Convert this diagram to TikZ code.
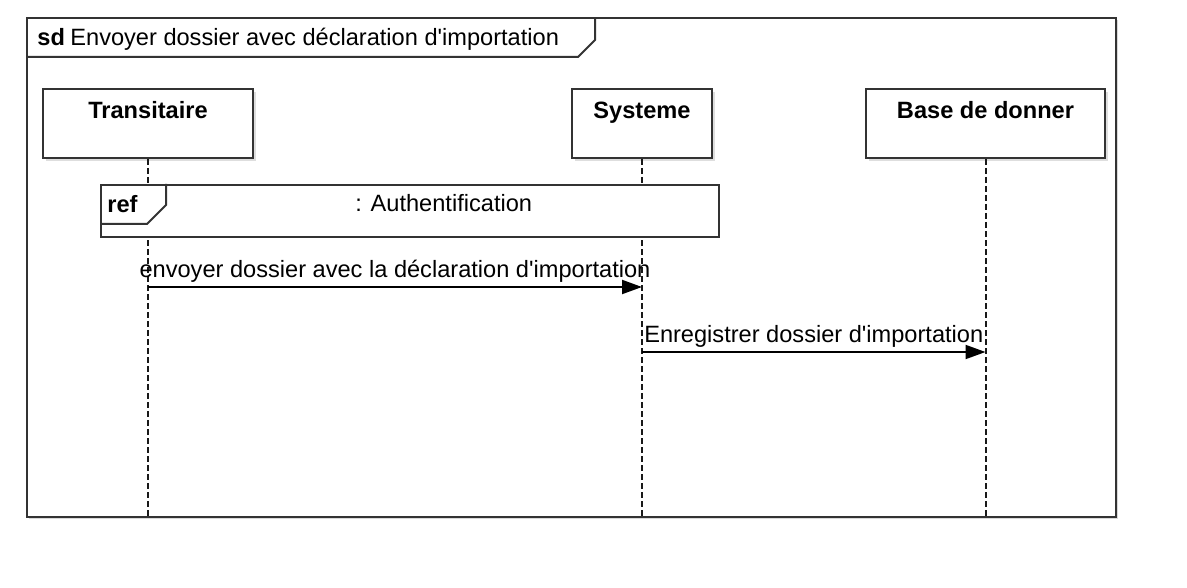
\documentclass[tikz,border=0pt]{standalone}
\usepackage{fontspec}
\setmainfont{Liberation Sans}
\usetikzlibrary{arrows.meta, positioning, shadows}

\begin{document}
\begin{tikzpicture}[x=0.5pt, y=-0.5pt,
    frame/.style={draw=black!80, fill=white, line width=1pt},
    lifebox/.style={draw=black!80, fill=white, line width=1pt, anchor=north,
                    minimum height=34.5pt, inner ysep=0pt, text height=15pt, text depth=19.5pt,
                    font=\bfseries\fontsize{11.8}{14}\selectfont,
                    drop shadow={shadow xshift=1.5pt, shadow yshift=-1.5pt, fill=black!25, draw=none}},
    lifeline/.style={dash pattern=on 3pt off 1.5pt, line width=1pt, black!90},
    msg/.style={-{Triangle[length=10pt, width=7pt]}, line width=1pt},
    lbl/.style={font=\fontsize{11.8}{14}\selectfont, inner sep=2pt},
    tag/.style={font=\bfseries\fontsize{11.8}{14}\selectfont, anchor=base west, inner sep=0pt}
]
\useasboundingbox (0,0) rectangle (1187,588);

% sd frame
\draw[frame, drop shadow={shadow xshift=1pt, shadow yshift=-1pt, fill=black!30, draw=none}]
    (27,18) rectangle (1116,517);
\draw[frame, fill=none] (27,57) -- (578,57) -- (595,40) -- (595,18);
\node[tag] (sd) at (37,46) {sd};
\node[lbl, anchor=base west, inner sep=0pt] (title) at (70,46) {Envoyer dossier avec déclaration d\textquotesingle importation};

% lifelines
\node[lifebox, minimum width=105pt] (tr) at (148,88) {Transitaire};
\node[lifebox, minimum width=70pt] (sy) at (642,88) {Systeme};
\node[lifebox, minimum width=119.5pt] (bd) at (985.5,88) {Base de donner};

\coordinate (bottom) at (0,517);
\draw[lifeline] (tr.south) -- (tr.south |- bottom);
\draw[lifeline] (sy.south) -- (sy.south |- bottom);
\draw[lifeline] (bd.south) -- (bd.south |- bottom);

% ref
\node[frame, minimum width=309pt, minimum height=26pt, anchor=north west, inner sep=0pt] (ref) at (100,184) {};
\draw[frame, fill=none] (ref.north west |- 0,224) -- (147,224) -- (166,205) -- (166,184);
\node[tag] (reftag) at (107,213) {ref};
\node[lbl, anchor=base west, inner sep=0pt] (auth) at (355,212) {: Authentification};

% messages
\coordinate (m1) at (0,287);
\coordinate (m2) at (0,352);
\draw[msg] (tr.south |- m1) -- node[lbl, above] (l1) {envoyer dossier avec la déclaration d\textquotesingle importation} (sy.south |- m1);
\draw[msg] (sy.south |- m2) -- node[lbl, above] (l2) {Enregistrer dossier d\textquotesingle importation} (bd.south |- m2);
\end{tikzpicture}
\end{document}
